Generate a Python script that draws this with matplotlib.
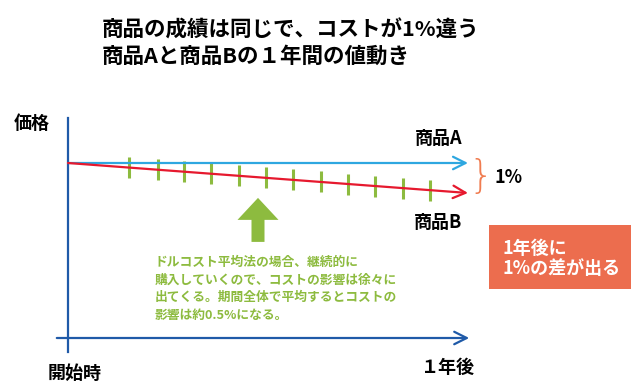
import numpy as np
import matplotlib
matplotlib.use('Agg')
import matplotlib.pyplot as plt
from matplotlib.patches import FancyArrow, Rectangle

plt.rcParams['font.family'] = ['Noto Sans CJK JP', 'DejaVu Sans']

# データ: 1年間の値動き (年の割合, 価格)
period = [0.0, 1.0]
price_a = [100.0, 100.0]   # 商品A
price_b = [100.0, 99.0]    # 商品B (コスト1%)
# 毎月の購入タイミング (ドルコスト平均法)
buy_points = [0.153, 0.226, 0.291, 0.358, 0.428, 0.495,
              0.563, 0.633, 0.701, 0.768, 0.837, 0.905]

title = '商品の成績は同じで、コストが1%違う\n商品Aと商品Bの１年間の値動き'
note = ('ドルコスト平均法の場合、継続的に\n購入していくので、コストの影響は徐々に\n'
        '出てくる。期間全体で平均するとコストの\n影響は約0.5%になる。')

W, H = 642, 390
c_axis = '#1f5aa8'
c_a = '#2ea7e0'
c_b = '#e6192e'
c_green = '#8dbb3f'
c_orange = '#ec6d4e'


def fp(x, y):
    # ピクセル位置 -> figure座標
    return x / W, 1 - y / H


fig = plt.figure(figsize=(W / 100, H / 100), dpi=100)
ax = fig.add_axes([68 / W, (H - 338) / H, 400 / W, 220 / H])
ax.set_xlim(0, 1)
ax.set_ylim(94.1667, 101.5)
ax.axis('off')

# 軸
ax.plot([0, 0], [-0.064, 1], color=c_axis, lw=1.6, transform=ax.transAxes, clip_on=False)
ax.annotate('', xy=(1.003, 0), xytext=(-0.028, 0), xycoords='axes fraction',
            textcoords='axes fraction',
            arrowprops=dict(arrowstyle='->,head_length=0.9,head_width=0.45',
                            color=c_axis, lw=1.6, shrinkA=0, shrinkB=0,
                            mutation_scale=10))

# 商品A / 商品B
for prices, col in [(price_a, c_a), (price_b, c_b)]:
    ax.annotate('', xy=(period[1], prices[1]), xytext=(period[0], prices[0]),
                arrowprops=dict(arrowstyle='->,head_length=0.9,head_width=0.45',
                                color=col, lw=1.6, shrinkA=0, shrinkB=0,
                                mutation_scale=10))

# 購入ポイント
tick_y = np.interp(buy_points, period, price_b)
ax.vlines(buy_points, tick_y - 0.35, tick_y + 0.35, color=c_green, lw=2.2)

# 緑の矢印
ax.add_patch(FancyArrow(0.475, 97.37, 0, 1.467 - 0.733, width=0.0325,
                        head_width=0.1025, head_length=0.733,
                        length_includes_head=False, color=c_green, lw=0))

ax.text(0.9275, 100.83, '商品A', ha='center', va='center', fontsize=13, fontweight='bold')
ax.text(0.925, 98.03, '商品B', ha='center', va='center', fontsize=13, fontweight='bold')

# テキスト
fig.text(*fp(102, 43), title, ha='left', va='center', fontsize=15.5,
         fontweight='bold', linespacing=1.35)
fig.text(*fp(32, 123), '価格', ha='center', va='center', fontsize=13, fontweight='bold')
fig.text(*fp(75, 373), '開始時', ha='center', va='center', fontsize=13, fontweight='bold')
fig.text(*fp(448, 367), '１年後', ha='center', va='center', fontsize=13, fontweight='bold')
fig.text(*fp(155, 256), note, ha='left', va='top', fontsize=9.2,
         fontweight='bold', color=c_green, linespacing=1.45)

# 1%の括弧
fig.text(*fp(481, 177), '}', ha='center', va='center', fontsize=28,
         color='#f07c50', family='DejaVu Sans', fontweight='light')
fig.text(*fp(509, 178), '1%', ha='center', va='center', fontsize=13, fontweight='bold')

# オレンジのボックス
x0, y0 = fp(489, 289)
fig.patches.append(Rectangle((x0, y0), 142 / W, 64 / H, transform=fig.transFigure,
                             facecolor=c_orange, edgecolor='none'))
fig.text(*fp(502, 248), '1年後に', ha='left', va='center', fontsize=13,
         fontweight='bold', color='white')
fig.text(*fp(502, 268), '1%の差が出る', ha='left', va='center', fontsize=13,
         fontweight='bold', color='white')

fig.savefig('out.png', dpi=100)
